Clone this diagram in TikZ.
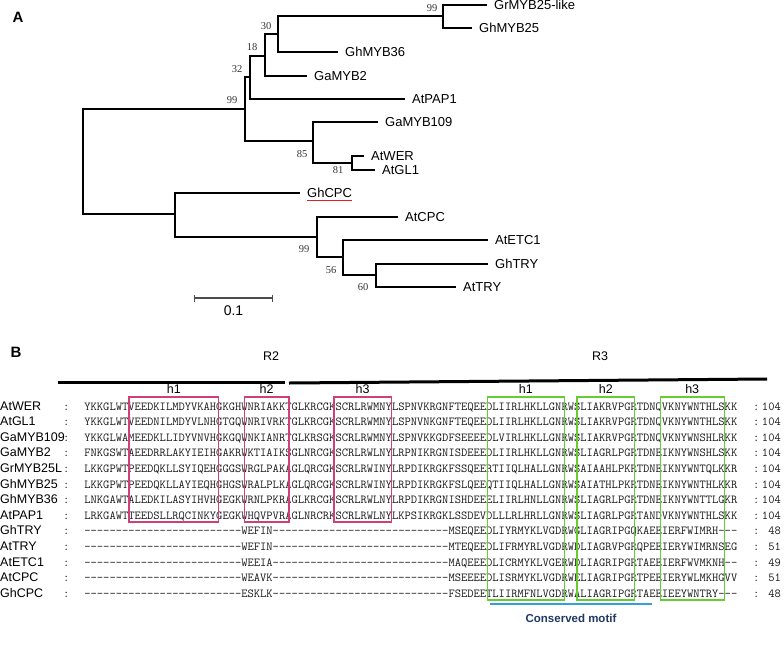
\documentclass[tikz,border=0pt]{standalone}
\usepackage{fontspec}
\setmainfont{Liberation Sans}
\newfontfamily\bootfont{Liberation Serif}
\usetikzlibrary{positioning,arrows.meta}

\definecolor{boxpink}{RGB}{208,64,120}
\definecolor{boxgreen}{RGB}{102,204,51}
\definecolor{motifblue}{RGB}{51,160,220}
\definecolor{motiftext}{RGB}{31,56,100}
\definecolor{cpcred}{RGB}{226,32,40}

% run of gap characters, kept apart so that no dash ligature forms
\newcommand\gaprun[1]{\ifnum#1>0 -\kern0pt\expandafter\gaprun\expandafter{\the\numexpr#1-1\relax}\fi}
\newcommand\seqx{84.2}
\newcommand\chw{6.4}

\begin{document}
\begin{tikzpicture}[x=1pt, y=-1pt,
    branch/.style={line width=2pt, black},
    taxon/.style={font=\fontsize{13}{15}\selectfont, inner sep=0pt, anchor=west},
    boot/.style={font=\bootfont\fontsize{10.5}{12}\selectfont, text=black!80, inner sep=0pt},
    seqname/.style={font=\fontsize{12.5}{14}\selectfont, inner sep=0pt, anchor=base west},
    seqtext/.style={font=\ttfamily\fontsize{12.19}{14}\selectfont, text=black!90, inner sep=0pt, anchor=base west},
    hlabel/.style={font=\fontsize{12.5}{14}\selectfont, inner sep=0pt},
    pinkbox/.style={draw=boxpink, line width=1.4pt},
    greenbox/.style={draw=boxgreen, line width=1.4pt}]
    \useasboundingbox (0,0) rectangle (784,648);

    % panel A: tree
    \node[font=\bfseries\fontsize{15}{17}\selectfont] (labA) at (18,17) {A};

    % internal nodes
    \coordinate (root) at (83,161.5);
    \coordinate (n99a) at (245,109);
    \coordinate (n32) at (250,77);
    \coordinate (n18) at (265,56);
    \coordinate (n30) at (278,34);
    \coordinate (n99b) at (443,16);
    \coordinate (n85) at (313,141);
    \coordinate (n81) at (352,163);
    \coordinate (nlow) at (175,214);
    \coordinate (n99c) at (317,237);
    \coordinate (n56) at (343,257);
    \coordinate (n60) at (376,275);

    % leaves with their labels
    \foreach \nm/\lx/\ly/\txt in {GrMYBlike/487/5/GrMYB25-like, GhMYB25/472/28/GhMYB25,
        GhMYB36/338/52/GhMYB36, GaMYB2/307/76/GaMYB2, AtPAP1/405/99/AtPAP1,
        GaMYB109/378/122/GaMYB109, AtWER/364/156/AtWER, AtGL1/375/170/AtGL1,
        GhCPC/300/193/GhCPC, AtCPC/398/217/AtCPC, AtETC1/488/240/AtETC1,
        GhTRY/488/264/GhTRY, AtTRY/456/287/AtTRY}
    {
        \coordinate (\nm) at (\lx,\ly);
        \node[taxon, right=7pt of \nm] (t\nm) {\txt};
    }

    % branches
    \foreach \p/\c in {root/n99a, root/nlow, n99a/n32, n99a/n85, n32/n18, n32/AtPAP1,
        n18/n30, n18/GaMYB2, n30/n99b, n30/GhMYB36, n99b/GrMYBlike, n99b/GhMYB25,
        n85/GaMYB109, n85/n81, n81/AtWER, n81/AtGL1, nlow/GhCPC, nlow/n99c,
        n99c/AtCPC, n99c/n56, n56/AtETC1, n56/n60, n60/GhTRY, n60/AtTRY}
        \draw[branch] (\p) |- (\c);

    % bootstrap values
    \foreach \v/\bx/\by [count=\k] in {99/432/8, 30/266/26, 18/252/47, 32/237/69,
        99/232/100, 85/302/154, 81/338/170, 99/304/249, 56/331/270, 60/363/287}
        \node[boot] (bs\k) at (\bx,\by) {\v};

    \draw[cpcred, line width=1.8pt] ([yshift=-2.5pt]tGhCPC.south west) -- ([yshift=-2.5pt]tGhCPC.south east);

    % scale bar
    \coordinate (sbL) at (194,298);
    \coordinate (sbR) at (273,298);
    \draw[black!70, line width=1.2pt, {Bar[width=7pt]}-{Bar[width=7pt]}] (sbL) -- (sbR);
    \node[font=\fontsize{14}{16}\selectfont, inner sep=0pt] (sbtext) at (233.5,311) {0.1};

    % panel B: alignment
    \node[font=\bfseries\fontsize{15}{17}\selectfont] (labB) at (16,352) {B};
    \draw[line width=3pt] (58,382) -- (285,382);
    \draw[line width=3pt] (289,383) -- (767,379);
    \node[hlabel] (R2) at (271,356) {R2};
    \node[hlabel] (R3) at (600,356) {R3};

    \foreach \nm/\sq/\len [count=\i] in {
        AtWER/YKKGLWTVEEDKILMDYVKAHGKGHWNRIAKKTGLKRCGKSCRLRWMNYLSPNVKRGNFTEQEEDLIIRLHKLLGNRWSLIAKRVPGRTDNQVKNYWNTHLSKK/104,
        AtGL1/YKKGLWTVEEDNILMDYVLNHGTGQWNRIVRKTGLKRCGKSCRLRWMNYLSPNVNKGNFTEQEEDLIIRLHKLLGNRWSLIAKRVPGRTDNQVKNYWNTHLSKK/104,
        GaMYB109/YKKGLWAMEEDKLLIDYVNVHGKGQWNKIANRTGLKRSGKSCRLRWMNYLSPNVKKGDFSEEEEDLVIRLHKLLGNRWSLIAKRVPGRTDNQVKNYWNSHLRKK/104,
        GaMYB2/FNKGSWTAEEDRRLAKYIEIHGAKRWKTIAIKSGLNRCGKSCRLRWLNYLRPNIKRGNISDEEEDLIIRLHKLLGNRWSLIAGRLPGRTDNEIKNYWNSHLSKK/104,
        GrMYB25L/LKKGPWTPEEDQKLLSYIQEHGGGSWRGLPAKAGLQRCGKSCRLRWINYLRPDIKRGKFSSQEERTIIQLHALLGNRWSAIAAHLPKRTDNEIKNYWNTQLKKR/104,
        GhMYB25/LKKGPWTPEEDQKLLAYIEQHGHGSWRALPLKAGLQRCGKSCRLRWINYLRPDIKRGKFSLQEEQTIIQLHALLGNRWSAIATHLPKRTDNEIKNYWNTHLKKR/104,
        GhMYB36/LNKGAWTALEDKILASYIHVHGEGKWRNLPKRAGLKRCGKSCRLRWLNYLRPDIKRGNISHDEEELIIRLHNLLGNRWSLIAGRLPGRTDNEIKNYWNTTLGKR/104,
        AtPAP1/LRKGAWTTEEDSLLRQCINKYGEGKWHQVPVRAGLNRCRKSCRLRWLNYLKPSIKRGKLSSDEVDLLLRLHRLLGNRWSLIAGRLPGRTANDVKNYWNTHLSKK/104,
        GhTRY/\gaprun{25}WEFIN\gaprun{28}MSEQEEDLIYRMYKLVGDRWGLIAGRIPGQKAEEIERFWIMRH\gaprun{3}/48,
        AtTRY/\gaprun{25}WEFIN\gaprun{28}MTEQEEDLIFRMYRLVGDRWDLIAGRVPGRQPEEIERYWIMRNSEG/51,
        AtETC1/\gaprun{25}WEEIA\gaprun{28}MAQEEEDLICRMYKLVGERWDLIAGRIPGRTAEEIERFWVMKNH\gaprun{2}/49,
        AtCPC/\gaprun{25}WEAVK\gaprun{28}MSEEEEDLISRMYKLVGDRWELIAGRIPGRTPEEIERYWLMKHGVV/51,
        GhCPC/\gaprun{25}ESKLK\gaprun{28}FSEDEETLIIRMFNLVGDRWALIAGRIPGRTAEEIEEYWNTRY\gaprun{3}/48}
    {
        \node[seqname] (nm\i) at (0,{410+15.6*(\i-1)}) {\nm};
        \node[seqtext] (co\i) at (63,{410+15.6*(\i-1)}) {:};
        \node[seqtext] (sq\i) at (\seqx,{410+15.6*(\i-1)}) {\sq};
        \node[seqtext] (cr\i) at (753,{410+15.6*(\i-1)}) {:};
        \node[seqtext, anchor=base east] (ln\i) at (781,{410+15.6*(\i-1)}) {\len};
    }

    % helix boxes of R2 and R3
    \foreach \l/\a/\b [count=\k] in {h1/7/21, h2/25/32, h3/39/48}
    {
        \draw[pinkbox] ({\seqx+\a*\chw},397) rectangle ({\seqx+\b*\chw},522);
        \node[hlabel] (ph\k) at ({\seqx+(\a+\b)*\chw/2},389) {\l};
    }
    \foreach \l/\a/\b [count=\k] in {h1/63/75, h2/77/86, h3/90/100}
    {
        \draw[greenbox] ({\seqx+\a*\chw},397) rectangle ({\seqx+\b*\chw},600);
        \node[hlabel] (gh\k) at ({\seqx+(\a+\b)*\chw/2},389) {\l};
    }

    \draw[motifblue, line width=1.5pt] (490,604) -- (652,604);
    \node[font=\bfseries\fontsize{11.5}{13}\selectfont, text=motiftext] (motif) at (571,618) {Conserved motif};
\end{tikzpicture}
\end{document}
